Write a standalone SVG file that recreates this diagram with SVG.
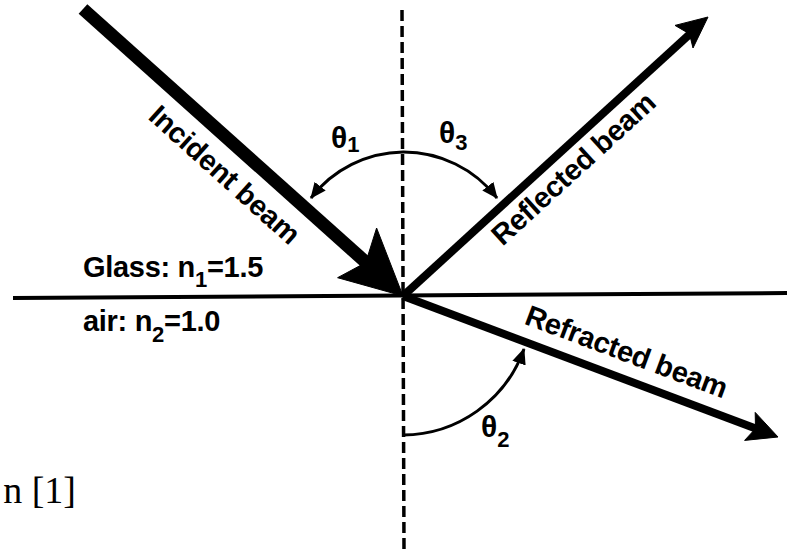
<svg xmlns="http://www.w3.org/2000/svg" width="787" height="550" viewBox="0 0 787 550">
<defs>
<style>
.lbl{font-family:"Liberation Sans",Arial,sans-serif;font-weight:bold;font-size:29px;letter-spacing:-0.3px;fill:#000}
.sub{font-size:22px}
.th{font-family:"Liberation Sans",Arial,sans-serif;font-weight:bold;font-size:30px;fill:#000}
.arc{fill:none;stroke:#000;stroke-width:3}
.beam{stroke:#000;fill:none}
.head{fill:#000;stroke:#000;stroke-width:1;stroke-linejoin:round}
.ref{font-family:"Liberation Serif","Times New Roman",serif;font-size:38px;fill:#000}
</style>
<marker id="ah" viewBox="0 0 16 14" markerWidth="16" markerHeight="14" refX="15" refY="7" orient="auto" markerUnits="userSpaceOnUse">
<path d="M0,0 L16,7 L0,14 z" fill="#000"/>
</marker>
</defs>
<rect width="787" height="550" fill="#fff"/>
<g id="interface">
<line x1="13" y1="298" x2="787" y2="293" stroke="#000" stroke-width="4"/>
</g>
<g id="normal">
<line x1="402" y1="10" x2="404" y2="550" stroke="#000" stroke-width="3.5" stroke-dasharray="11,5"/>
</g>
<g id="connectors">
<g id="incident-beam">
<line class="beam" x1="83" y1="9" x2="370" y2="266" stroke-width="13"/>
<polygon class="head" points="403,296 376.6,228 365.7,262.6 337.6,277.7"/>
</g>
<g id="reflected-beam">
<line class="beam" x1="403" y1="296" x2="691" y2="33" stroke-width="8"/>
<polygon class="head" points="708,17 693,48 689.5,33.9 675,25.4"/>
</g>
<g id="refracted-beam">
<line class="beam" x1="403" y1="296" x2="757" y2="429" stroke-width="8"/>
<polygon class="head" points="778,437 744.6,440.4 755.5,428.6 755.2,412.4"/>
</g>
<g id="angle-arcs">
<path id="arc-theta1" class="arc" d="M403,152 A118,118 0 0 0 311,198" marker-end="url(#ah)"/>
<path id="arc-theta3" class="arc" d="M403,152 A118,118 0 0 1 497,198" marker-end="url(#ah)"/>
<path id="arc-theta2" class="arc" d="M403,435 A129,129 0 0 0 524,349" marker-end="url(#ah)"/>
</g>
</g>
<g id="labels">
<text class="lbl" text-anchor="middle" transform="translate(218,182) rotate(41.9)">Incident beam</text>
<text class="lbl" text-anchor="middle" transform="translate(580,176) rotate(-42.4)">Reflected beam</text>
<text class="lbl" text-anchor="middle" transform="translate(623,361) rotate(20.6)">Refracted beam</text>
<text class="lbl" x="83" y="277">Glass: n<tspan class="sub" dy="10">1</tspan><tspan dy="-10">=1.5</tspan></text>
<text class="lbl" x="83" y="331">air: n<tspan class="sub" dy="11">2</tspan><tspan dy="-11">=1.0</tspan></text>
<text class="th" x="331" y="148">θ<tspan class="sub" dy="4">1</tspan></text>
<text class="th" x="439" y="143">θ<tspan class="sub" dy="7">3</tspan></text>
<text class="th" x="481" y="437">θ<tspan class="sub" dy="10">2</tspan></text>
<text class="ref" x="76" y="503" text-anchor="end">n [1]</text>
</g>
</svg>
